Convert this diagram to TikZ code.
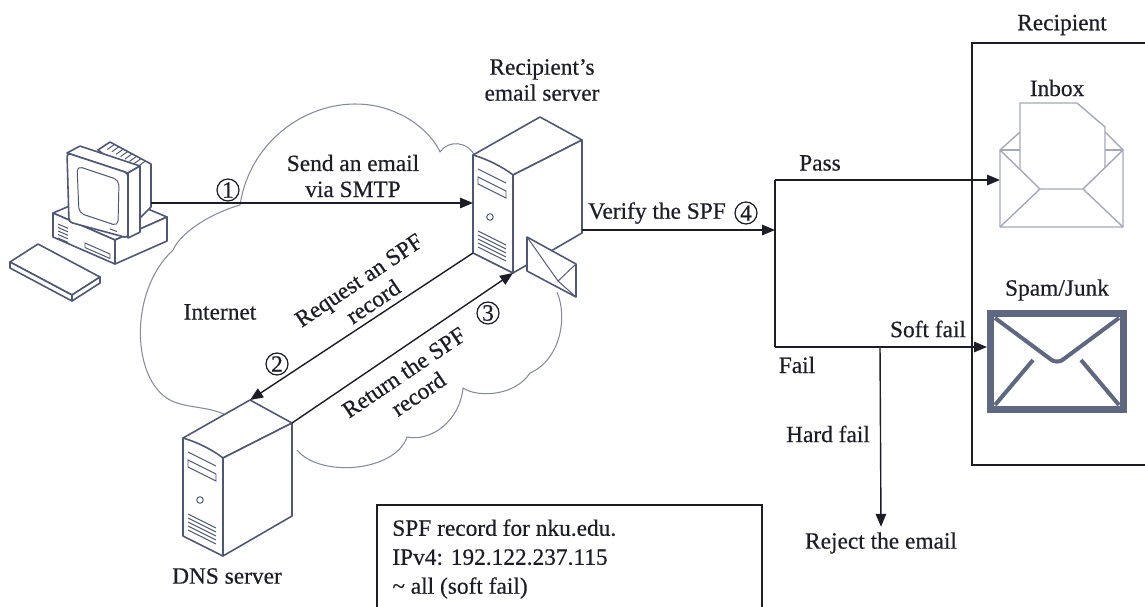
\documentclass[tikz,border=0pt]{standalone}
\usepackage{fontspec}
\setmainfont{Liberation Serif}[FakeBold=0.45]
\usetikzlibrary{arrows.meta}

\definecolor{ink}{HTML}{1C1D26}
\definecolor{dev}{HTML}{4E5775}
\definecolor{cloudc}{HTML}{858A9C}
\definecolor{mailc}{HTML}{A4A9BA}
\definecolor{spamc}{HTML}{5E6881}

\tikzset{
  lbl/.style={font=\fontsize{13.3}{14.8}\selectfont, text=ink, inner sep=0pt, align=center},
  num/.style={circle, draw=ink, line width=0.7pt, minimum size=0.44cm, inner sep=0pt,
              font=\fontsize{13.3}{14.8}\selectfont, text=ink, fill=white},
  flow/.style={draw=ink, line width=0.8pt, -{Triangle[length=0.26cm,width=0.21cm]}},
  plain/.style={draw=ink, line width=0.8pt},
  devline/.style={draw=dev, line width=0.9pt, line join=round, fill=white},
  detail/.style={draw=dev, line width=0.55pt},
  cloudline/.style={draw=cloudc, line width=0.6pt},
  mailline/.style={draw=mailc, line width=0.8pt, line join=round},
  % isometric tower server, origin at the top-left corner of its front face
  tower/.pic={
    \draw[devline] (0,0) -- (67,-38) -- (109,-15) -- (40,20) -- cycle;
    \draw[devline] (40,20) -- (109,-15) -- (109,78) -- (40,118) -- cycle;
    \draw[devline] (0,0) .. controls (14,4) and (30,12) .. (40,20) -- (40,118) -- (0,98) -- cycle;
    \draw[detail] (5,14) -- (33,28);
    \draw[detail] (5,22) -- (33,36) -- (33,43) -- (5,29) -- cycle;
    \draw[detail] (17,62) circle[radius=0.065cm];
    \foreach \k in {0,...,4} \draw[detail] (5,76+4*\k) -- (33,90+4*\k);
    \coordinate (-top) at (67,-38);
    \coordinate (-rt) at (109,-15);
    \coordinate (-lft) at (0,48);
    \coordinate (-bl) at (0,98);
    \coordinate (-bf) at (40,118);
    \coordinate (-rm) at (109,75);
  }
}

\begin{document}
\begin{tikzpicture}[x=0.02cm,y=-0.02cm]
\useasboundingbox (0,0) rectangle (1145,606);

% ---- Internet cloud (visible parts) ----
\draw[cloudline] (557,292) .. controls (568,318) and (560,360) .. (530,373)
  .. controls (515,396) and (478,398) .. (463,388)
  .. controls (460,420) and (432,442) .. (407,437)
  .. controls (395,472) and (320,478) .. (297,450);
\draw[cloudline] (224,414) .. controls (205,406) and (185,408) .. (170,400)
  .. controls (132,380) and (128,292) .. (173,250)
  .. controls (182,230) and (215,212) .. (240,205)
  .. controls (252,128) and (330,88) .. (390,110)
  .. controls (418,120) and (435,140) .. (440,152)
  .. controls (448,140) and (468,140) .. (476,158);

% ---- desktop computer ----
% keyboard
\draw[devline] (10,262) -- (38,244) -- (100,277) -- (72,295) -- cycle;
\draw[devline] (10,262) -- (72,295) -- (72,301) -- (10,268) -- cycle;
\draw[devline] (72,295) -- (100,277) -- (100,283) -- (72,301) -- cycle;
% system unit
\draw[devline] (53,213) -- (105,191) -- (167,217) -- (115,240) -- cycle;
\draw[devline] (53,213) -- (115,240) -- (115,264) -- (53,237) -- cycle;
\draw[devline] (115,240) -- (167,217) -- (167,241) -- (115,264) -- cycle;
\foreach \k in {0,...,4} \draw[detail] (58,224+3.5*\k) -- (68,228.3+3.5*\k);
\draw[detail] (85,243) -- (110,254) -- (110,258.5) -- (85,247.5) -- cycle;
% monitor housing
\draw[devline] (98,150) -- (110,142) -- (151,164) -- (151,207) -- (130,228) -- (128,172) -- cycle;
\foreach \k in {1,...,8} \draw[detail] (110+4.4*\k,142+2.4*\k) -- (103+4.4*\k,147+2.4*\k);
% monitor bezel
\draw[devline] (67,153) -- (80,146) -- (140,166) -- (128,173) -- cycle;
\draw[devline] (128,173) -- (140,166) -- (140,232) -- (128,238) -- cycle;
\draw[devline, rounded corners=2pt] (67,153) -- (128,173) -- (128,238) -- (69,222) -- cycle;
\draw[detail, rounded corners=3pt] (77,166) -- (119,180) -- (118,226) -- (79,213) -- cycle;
\draw[detail] (110,229) -- (117,231.5);
\coordinate (pcout) at (151,203);

% ---- servers ----
\pic (srv) at (473,155) {tower};
\pic (dns) at (183,438) {tower};

% envelope leaning on the email server
\draw[devline] (527,237) -- (576,264) -- (576,297) -- (527,271) -- cycle;
\draw[detail] (527,237) -- (558,281) -- (576,264);
\draw[detail] (558,281) -- (576,297);

% ---- labels around the servers ----
\node[lbl] (srvlbl) at (542,80) {Recipient's\\email server};
\node[lbl] (dnslbl) at (227,576) {DNS server};
\node[lbl] (inet) at (220,312) {Internet};

% ---- step 1: send email ----
\draw[flow] (pcout) -- (srv-lft);
\node[num] (n1) at (228,190) {1};
\node[lbl] (sendlbl) at (353,176) {Send an email\\via SMTP};

% ---- steps 2 and 3: SPF lookup ----
\draw[flow] (srv-bl) -- (dns-top);
\draw[flow] (dns-rt) -- (srv-bf);
\node[num] (n2) at (277,364) {2};
\node[num] (n3) at (488,313) {3};
\node[lbl, rotate=34] (reqlbl) at (366,291) {Request an SPF\\record};
\node[lbl, rotate=34] (retlbl) at (411,383) {Return the SPF\\record};

% ---- step 4: verification and outcomes ----
\coordinate (split) at (775,230);
\coordinate (passc) at (775,180);
\coordinate (failc) at (775,347);
\coordinate (hardc) at (880,347);
\coordinate (inbox) at (1000,180);
\coordinate (spam) at (987,347);
\draw[flow] (srv-rm) -- (split);
\draw[plain] (passc) -- (failc);
\draw[flow] (passc) -- (inbox);
\draw[flow] (failc) -- (spam);
\node[lbl, inner ysep=3pt] (reject) at (881,543) {Reject the email};
\draw[flow] (hardc) -- (reject.north);

\node[lbl] (verlbl) at (657,213) {Verify the SPF};
\node[num] (n4) at (746,213) {4};
\node[lbl] (passlbl) at (820,163) {Pass};
\node[lbl] (softlbl) at (928,329) {Soft fail};
\node[lbl] (faillbl) at (797,365) {Fail};
\node[lbl] (hardlbl) at (828,434) {Hard fail};

% ---- recipient mailbox ----
\draw[draw=ink, line width=0.9pt] (1160,43) -- (972,43) -- (972,465) -- (1160,465);
\node[lbl] (reclbl) at (1062,25) {Recipient};
\node[lbl] (inboxlbl) at (1057,88) {Inbox};
\node[lbl] (spamlbl) at (1057,290) {Spam/Junk};

% open envelope with letter
\draw[mailline] (1000,150) -- (1020,132);
\draw[mailline] (1123,150) -- (1105,132);
\draw[mailline] (1000,150) -- (1123,150);
\draw[mailline, fill=white] (1020,190) -- (1020,103) -- (1077,103) -- (1105,127) -- (1105,190);
\draw[mailline, fill=white] (1000,150) -- (1040,189) -- (1083,189) -- (1123,150) -- (1123,227) -- (1000,227) -- cycle;
\draw[mailline] (1000,227) -- (1040,189);
\draw[mailline] (1123,227) -- (1083,189);

% closed envelope for spam
\draw[draw=spamc, line width=0.14cm] (990.5,313.5) rectangle (1123.5,409.5);
\draw[draw=spamc, line width=2.3pt, line join=round, rounded corners=4pt] (995,318) -- (1057,364) -- (1119,318);
\draw[draw=spamc, line width=2.3pt] (995,405) -- (1033,360);
\draw[draw=spamc, line width=2.3pt] (1119,405) -- (1081,360);

% ---- SPF record box ----
\draw[draw=ink, line width=0.9pt] (377,620) -- (377,505) -- (762,505) -- (762,620);
\node[lbl, align=left, anchor=west, font=\fontsize{13.3}{16.5}\selectfont] (spfrec) at (392,559)
  {SPF record for nku.edu.\\IPv4: 192.122.237.115\\\textasciitilde\ all (soft fail)};

\end{tikzpicture}
\end{document}
